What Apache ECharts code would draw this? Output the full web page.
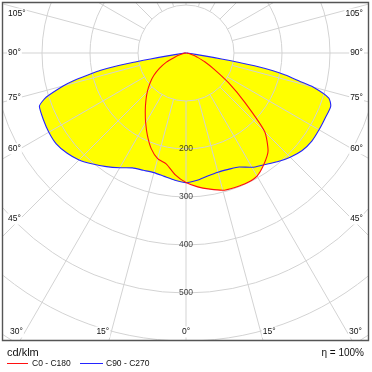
<!DOCTYPE html>
<html><head><meta charset="utf-8">
<script src="https://cdn.jsdelivr.net/npm/echarts@6/dist/echarts.min.js"></script>
<style>html,body{margin:0;padding:0;background:#fff}#c{width:372px;height:372px}</style>
</head><body><div id="c"></div>
<script>
// gamma angles (deg from nadir), values in cd/klm
const gammas = [0,5,10,15,20,25,30,35,40,45,50,55,60,65,70,72.5,75,76,77.5,78.5,79.5,80,80.5,81,82,84,87,90];
const blueRight = [270,266,260,257,258,262,275,284,296,307,316,320,320,320,321,312,274,245,212,185,145,110,75,45,20,6,2,0];
const blueLeft  = [270,266,261,258,260,264,276,289,302,315,324,330,330,328,325,305,265,245,205,183,145,105,75,45,20,6,2,0];
const redRight  = [270,280,288,296,298,299,296,283,266,232,160,108,68,43,24,18,12,10,8,7,6,5,5,4,4,3,1,0];
const redLeft   = [270,255,235,228,212,190,168,148,130,114,98,82,64,45,24,18,12,10,8,7,6,5,5,4,4,3,1,0];
const radialTicks = [200,300,400,500];
const angleTicks = [0,15,30,45,60,75,90,105];
const seriesNames = ['C0 - C180','C90 - C270'];

const CX = 186, CY = 53;
const FONT = 'Liberation Sans, Arial, sans-serif';
const RED = '#ff1010', BLUE = '#2424ff', GRID = '#d3d3d3', TXT = '#111';
const SMOOTH = 0.2;

function polarPairs(left, right){
  const pts = [];
  for (let i = gammas.length-1; i >= 0; i--) pts.push([left[i], -gammas[i]]);
  for (let i = 1; i < gammas.length; i++) pts.push([right[i], gammas[i]]);
  return pts;
}
const blueData = polarPairs(blueLeft, blueRight);
const redData = polarPairs(redLeft, redRight);

function angleLabel(g, side){
  const rad = g*Math.PI/180, dx = Math.sin(rad), dy = Math.cos(rad);
  const yb = 332, xin = 166;
  if (dy > 0 && (yb-CY)*dx/dy <= xin){
    const off = (yb-CY)*dx/dy;
    if (g === 0) return {x: CX, y: yb, align: 'center'};
    return {x: CX + side*(off+1), y: yb, align: side<0 ? 'right':'left'};
  }
  let y = CY + xin*dy/dx; y = Math.max(y, 14);
  return {x: side<0 ? 7 : 364, y: y, align: side<0 ? 'left':'right'};
}

const graphics = [
  {type:'rect', shape:{x:0,y:0,width:372,height:2.5}, style:{fill:'#fff'}, z:50, silent:true},
  {type:'rect', shape:{x:0,y:0,width:2.5,height:372}, style:{fill:'#fff'}, z:50, silent:true},
  {type:'rect', shape:{x:368.5,y:0,width:4,height:372}, style:{fill:'#fff'}, z:50, silent:true},
  {type:'rect', shape:{x:0,y:340.5,width:372,height:32}, style:{fill:'#fff'}, z:50, silent:true},
  {type:'rect', shape:{x:2.5,y:2.5,width:366,height:338}, style:{fill:null, stroke:'#555', lineWidth:1.4}, z:51, silent:true}
];
angleTicks.forEach(g => {
  const sides = g === 0 ? [1] : [-1, 1];
  sides.forEach(s => {
    const p = angleLabel(g, s);
    graphics.push({type:'text', x:p.x, y:p.y, z:60, silent:true,
      style:{text: g + '°', font: '8.5px ' + FONT, fill:TXT, align:p.align, textAlign:p.align,
             verticalAlign:'middle', textVerticalAlign:'middle', backgroundColor:'#fff', padding:[1,1]}});
  });
});
// legend and footer
graphics.push({type:'text', x:7, y:353, z:60, style:{text:'cd/klm', font:'11px ' + FONT, fill:TXT, verticalAlign:'middle', textVerticalAlign:'middle'}});
graphics.push({type:'line', shape:{x1:7,y1:363.5,x2:28,y2:363.5}, style:{stroke:RED, lineWidth:1}, z:60});
graphics.push({type:'text', x:32, y:363.5, z:60, style:{text:seriesNames[0], font:'8.5px ' + FONT, fill:TXT, verticalAlign:'middle', textVerticalAlign:'middle'}});
graphics.push({type:'line', shape:{x1:80,y1:363.5,x2:103,y2:363.5}, style:{stroke:BLUE, lineWidth:1}, z:60});
graphics.push({type:'text', x:106, y:363.5, z:60, style:{text:seriesNames[1], font:'8.5px ' + FONT, fill:TXT, verticalAlign:'middle', textVerticalAlign:'middle'}});
graphics.push({type:'text', x:364, y:353.5, z:60, style:{text:'η = 100%', font:'10px ' + FONT, fill:TXT, align:'right', textAlign:'right', verticalAlign:'middle', textVerticalAlign:'middle'}});

const chart = echarts.init(document.getElementById('c'), null, {renderer:'canvas'});
const hidden = {axisLine:{show:false}, axisTick:{show:false}, axisLabel:{show:false}};
chart.setOption({
  animation: false,
  polar: [
    {center:[CX, CY], radius:[48, 360]},
    {center:[CX, CY], radius:[0, 360]}
  ],
  radiusAxis: [
    Object.assign({polarIndex:0, type:'value', min:100, max:750, interval:100, z:3,
      splitLine:{show:true, lineStyle:{color:GRID, width:1}}}, hidden),
    Object.assign({polarIndex:1, type:'value', min:0, max:750, interval:100,
      splitLine:{show:false}}, hidden)
  ],
  angleAxis: [
    Object.assign({polarIndex:0, type:'value', min:-180, max:180, interval:15, startAngle:90, clockwise:false, z:3,
      splitLine:{show:true, lineStyle:{color:GRID, width:1}}}, hidden),
    Object.assign({polarIndex:1, type:'value', min:-180, max:180, interval:15, startAngle:90, clockwise:false,
      splitLine:{show:false}}, hidden)
  ],
  series: [
    {type:'line', polarIndex:1, coordinateSystem:'polar', data:blueData, symbol:'none', smooth:SMOOTH, z:1, silent:true,
     lineStyle:{width:0}, areaStyle:{color:'#ffff00', opacity:1}},
    {type:'line', polarIndex:1, coordinateSystem:'polar', data:redData, symbol:'none', smooth:SMOOTH, z:1, silent:true,
     lineStyle:{width:0}, areaStyle:{color:'#ffff00', opacity:1}},
    {type:'line', polarIndex:1, name:seriesNames[1], coordinateSystem:'polar', data:blueData, symbol:'none', smooth:SMOOTH, z:5, silent:true,
     lineStyle:{color:BLUE, width:1.1}},
    {type:'line', polarIndex:1, name:seriesNames[0], coordinateSystem:'polar', data:redData, symbol:'none', smooth:SMOOTH, z:5, silent:true,
     lineStyle:{color:RED, width:1.1}},
    {type:'scatter', polarIndex:1, coordinateSystem:'polar', data:radialTicks.map(v => [v, 0]), symbolSize:0, z:6, silent:true,
     label:{show:true, position:'inside', formatter: p => String(p.value[0]), color:TXT, fontSize:8.5, fontFamily:FONT}}
  ],
  graphic: {elements: graphics}
});
</script></body></html>
